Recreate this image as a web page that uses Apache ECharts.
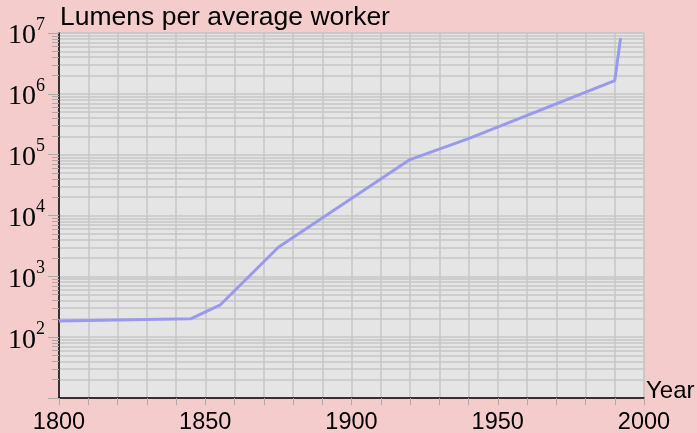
<!DOCTYPE html>
<html>
<head>
<meta charset="utf-8">
<script src="https://cdn.jsdelivr.net/npm/echarts@6/dist/echarts.min.js"></script>
<style>
  html, body { margin: 0; padding: 0; background: #f4cccc; }
  #chart { width: 697px; height: 433px; }
</style>
</head>
<body>
<div id="chart"></div>
<script>
// data
var years = [1800, 1845, 1855, 1875, 1920, 1940, 1990, 1992];
var lumens = [185, 200, 335, 3000, 83000, 184000, 1650000, 8300000];
var yearTicks = [1800, 1850, 1900, 1950, 2000];

var chart = echarts.init(document.getElementById('chart'));

var points = years.map(function (y, i) { return [y, lumens[i]]; });
var gridGray = '#c6c6c6';

var option = {
  backgroundColor: '#f4cccc',
  animation: false,
  title: {
    text: 'Lumens per average worker',
    left: 60,
    top: 4,
    padding: 0,
    textStyle: { fontFamily: 'Liberation Sans', fontSize: 26.5, fontWeight: 'normal', color: '#000' }
  },
  grid: {
    left: 59, right: 53, top: 33, bottom: 35,
    outerBoundsMode: 'none',
    containLabel: false,
    show: true, backgroundColor: '#e5e5e5', borderColor: gridGray, borderWidth: 1
  },
  xAxis: {
    type: 'value',
    min: yearTicks[0],
    max: yearTicks[yearTicks.length - 1],
    interval: 50,
    name: 'Year',
    nameLocation: 'end',
    nameGap: 2,
    nameTextStyle: { fontFamily: 'Liberation Sans', fontSize: 24, color: '#000', verticalAlign: 'bottom', padding: [0, 0, -5, 0] },
    axisLine: { lineStyle: { color: '#000', width: 1.5 } },
    axisTick: { show: true, length: 7, lineStyle: { color: '#aaa' } },
    minorTick: { show: true, splitNumber: 5, length: 7, lineStyle: { color: '#aaa' } },
    splitLine: { show: true, lineStyle: { color: gridGray, width: 1.5 } },
    minorSplitLine: { show: true, lineStyle: { color: gridGray, width: 1.5 } },
    axisLabel: {
      fontFamily: 'Liberation Sans', fontSize: 23.5, color: '#000', margin: 13,
      formatter: function (v) { return String(v); }
    }
  },
  yAxis: {
    type: 'log',
    logBase: 10,
    min: 10,
    max: 10000000,
    axisLine: { show: true, lineStyle: { color: '#000', width: 1.5 } },
    axisTick: { show: true, length: 11, lineStyle: { color: '#aaa' } },
    minorTick: { show: true, splitNumber: 9, length: 7, lineStyle: { color: '#aaa' } },
    splitLine: { show: true, lineStyle: { color: gridGray, width: 1.5 } },
    minorSplitLine: { show: true, lineStyle: { color: gridGray, width: 1.5 } },
    axisLabel: {
      margin: 14,
      formatter: function (v) {
        var e = Math.round(Math.log10(v));
        if (e < 2) return '';
        return '{b|10}{s|' + e + '}';
      },
      rich: {
        b: { fontFamily: 'Liberation Serif', fontSize: 28, color: '#000', padding: [6, 0, 0, 0] },
        s: { fontFamily: 'Liberation Serif', fontSize: 18, color: '#000', verticalAlign: 'top', padding: [0, 0, 12, 0] }
      }
    }
  },
  series: [{
    type: 'line',
    data: points,
    showSymbol: false,
    lineStyle: { color: '#9999ee', width: 3 },
    itemStyle: { color: '#9999ee' },
    z: 5
  }]
};

chart.setOption(option);
</script>
</body>
</html>
